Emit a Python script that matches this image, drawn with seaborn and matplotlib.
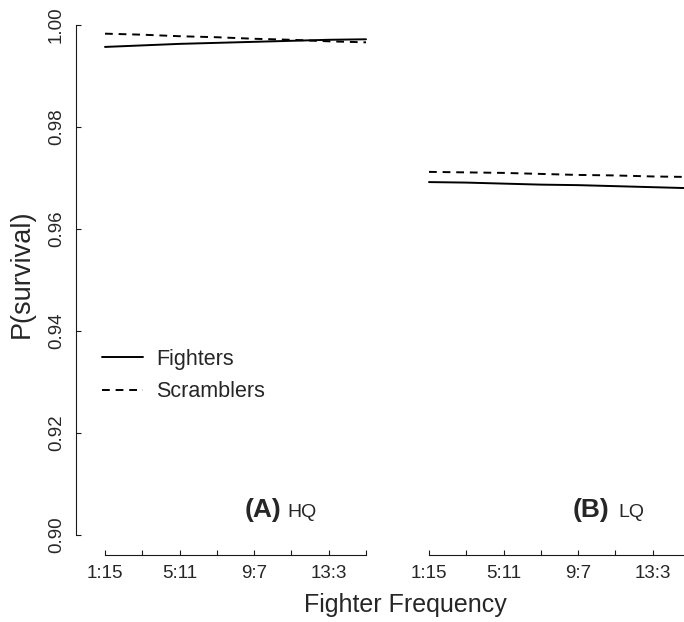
import matplotlib
matplotlib.use("Agg")
import matplotlib.pyplot as plt
from matplotlib.lines import Line2D
import seaborn as sns
import pandas as pd

# ---- data ----
freq_num = [1, 3, 5, 7, 9, 11, 13, 15]
tick_labels = ["1:15", "", "5:11", "", "9:7", "", "13:3", ""]
hq_fighters = [0.9957, 0.9960, 0.9963, 0.9965, 0.9967, 0.9969, 0.9971, 0.9972]
hq_scramblers = [0.9983, 0.9981, 0.9978, 0.9976, 0.9973, 0.9971, 0.9968, 0.9966]
lq_fighters = [0.9692, 0.9691, 0.9689, 0.9687, 0.9686, 0.9684, 0.9682, 0.9680]
lq_scramblers = [0.9712, 0.9711, 0.9710, 0.9708, 0.9706, 0.9705, 0.9703, 0.9702]
y_ticks = [0.90, 0.92, 0.94, 0.96, 0.98, 1.00]
y_tick_labels = ["0.90", "0.92", "0.94", "0.96", "0.98", "1.00"]

sns.set_theme(style="white")
plt.rcParams["font.family"] = ["Liberation Sans", "DejaVu Sans"]

W, H = 684, 622
fig = plt.figure(figsize=(W / 100, H / 100), dpi=100)

def make_df(f, s):
    return pd.DataFrame({
        "x": freq_num * 2,
        "p": f + s,
        "type": ["Fighters"] * len(f) + ["Scramblers"] * len(s),
    })

px_per_unit = (366 - 105) / 14.0
xlim = (1 - (105 - 76) / px_per_unit, 15 + 0.56)
ax_w = (xlim[1] - xlim[0]) * px_per_unit
bottom_px, top_px = 555.4, 4.6
axL = fig.add_axes([76 / W, 1 - bottom_px / H, ax_w / W, (bottom_px - top_px) / H])
axR = fig.add_axes([(429 - 29) / W, 1 - bottom_px / H, ax_w / W, (bottom_px - top_px) / H])

dashes = {"Fighters": "", "Scramblers": (4, 3)}
ink = "#1a1a1a"
for ax, f, s in [(axL, hq_fighters, hq_scramblers), (axR, lq_fighters, lq_scramblers)]:
    sns.lineplot(data=make_df(f, s), x="x", y="p", style="type", dashes=dashes,
                 color="black", lw=1.4, ax=ax, legend=False)
    ax.set_xlim(*xlim)
    ax.set_ylim(0.896, 1.004)
    ax.set_xlabel("")
    ax.set_ylabel("")
    ax.set_facecolor("none")
    for sp in ["top", "right", "left"]:
        ax.spines[sp].set_visible(False)
    ax.spines["bottom"].set_bounds(1, 15)
    ax.spines["bottom"].set_color(ink)
    ax.spines["bottom"].set_linewidth(0.8)
    ax.set_xticks(freq_num)
    ax.set_xticklabels(tick_labels)
    ax.tick_params(axis="x", direction="in", length=3.8, width=0.8, color=ink,
                   labelsize=13.5, pad=7, bottom=True)

axL.spines["left"].set_visible(True)
axL.spines["left"].set_bounds(0.90, 1.00)
axL.spines["left"].set_color(ink)
axL.spines["left"].set_linewidth(0.8)
axL.set_yticks(y_ticks)
axL.set_yticklabels(y_tick_labels, rotation=90, va="center")
axL.tick_params(axis="y", direction="in", length=3.8, width=0.8, color=ink,
                labelsize=13.5, pad=8, left=True)
axR.set_yticks([])

# panel labels
axL.text(8.5, 0.90353, "(A)", fontsize=19, fontweight="bold", ha="left", va="baseline")
axL.text(10.76, 0.90353, "HQ", fontsize=14, ha="left", va="baseline")
axR.text(8.73, 0.90353, "(B)", fontsize=19, fontweight="bold", ha="left", va="baseline")
axR.text(11.14, 0.90353, "LQ", fontsize=14, ha="left", va="baseline")

# axis titles
fig.text(22 / W, 1 - 274 / H, "P(survival)", rotation=90, fontsize=19.5,
         ha="center", va="center")
fig.text(405 / W, 1 - 605 / H, "Fighter Frequency", fontsize=18,
         ha="center", va="center")

handles = [Line2D([], [], color="black", lw=1.4),
           Line2D([], [], color="black", lw=1.4, dashes=(4, 3))]
fig.legend(handles, ["Fighters", "Scramblers"], loc="upper left",
           bbox_to_anchor=(102 / W, 1 - 349 / H), frameon=False, fontsize=15.5,
           borderpad=0, borderaxespad=0, handlelength=1.9, handletextpad=0.6,
           labelspacing=0.52)

fig.savefig("out.png", dpi=100)
